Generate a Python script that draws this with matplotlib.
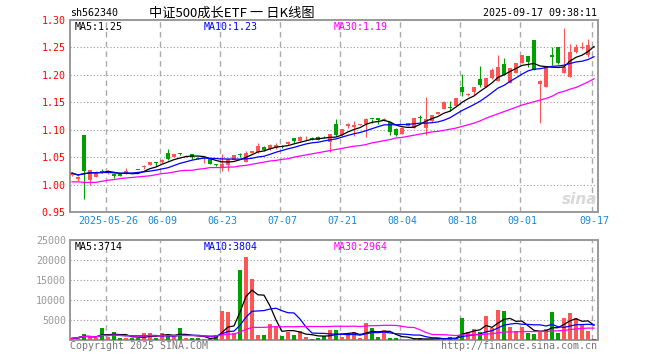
import numpy as np
import pandas as pd
import matplotlib
matplotlib.use('Agg')
import matplotlib.pyplot as plt

plt.rcParams['font.family'] = ['DejaVu Sans Mono']

# trading days shown (Dragon Boat holiday on 06-02 closed)
dates = pd.bdate_range('2025-05-16', '2025-09-17')
dates = dates[dates != pd.Timestamp('2025-06-02')]

opens = [1.017, 1.010, 1.090, 1.008, 1.014, 1.025, 1.021, 1.020, 1.019, 1.022,
         1.021, 1.027, 1.032, 1.036, 1.041, 1.041, 1.058, 1.051, 1.057, 1.051,
         1.056, 1.049, 1.048, 1.047, 1.036, 1.031, 1.036, 1.045, 1.0555, 1.042,
         1.058, 1.059, 1.069, 1.064, 1.066, 1.071, 1.074, 1.084, 1.080, 1.086,
         1.085, 1.087, 1.087, 1.077, 1.111, 1.090, 1.107, 1.105, 1.109, 1.111,
         1.120, 1.121, 1.117, 1.114, 1.102, 1.093, 1.107, 1.104, 1.124, 1.104,
         1.115, 1.129, 1.138, 1.141, 1.144, 1.177, 1.163, 1.169, 1.192, 1.178,
         1.194, 1.189, 1.220, 1.186, 1.204, 1.222, 1.234, 1.263, 1.184, 1.178,
         1.236, 1.250, 1.204, 1.197, 1.242, 1.249, 1.236, 1.262]
highs = [1.023, 1.015, 1.090, 1.027, 1.025, 1.028, 1.026, 1.021, 1.020, 1.031,
         1.022, 1.027, 1.035, 1.041, 1.042, 1.047, 1.064, 1.056, 1.058, 1.053,
         1.056, 1.050, 1.051, 1.047, 1.037, 1.055, 1.047, 1.054, 1.058, 1.062,
         1.062, 1.075, 1.070, 1.074, 1.076, 1.072, 1.079, 1.085, 1.088, 1.088,
         1.086, 1.088, 1.088, 1.093, 1.120, 1.101, 1.112, 1.116, 1.111, 1.122,
         1.120, 1.122, 1.122, 1.114, 1.104, 1.104, 1.112, 1.121, 1.127, 1.159,
         1.127, 1.132, 1.153, 1.152, 1.158, 1.201, 1.167, 1.177, 1.216, 1.195,
         1.212, 1.236, 1.231, 1.212, 1.222, 1.237, 1.235, 1.264, 1.190, 1.216,
         1.250, 1.250, 1.285, 1.256, 1.256, 1.259, 1.265, 1.262]
lows = [1.016, 1.007, 0.974, 0.999, 1.013, 1.021, 1.020, 1.012, 1.015, 1.020,
        1.019, 1.026, 1.028, 1.035, 1.033, 1.040, 1.045, 1.050, 1.053, 1.050,
        1.046, 1.046, 1.039, 1.037, 1.034, 1.024, 1.025, 1.044, 1.050, 1.041,
        1.057, 1.058, 1.062, 1.063, 1.065, 1.067, 1.073, 1.076, 1.079, 1.081,
        1.081, 1.081, 1.085, 1.059, 1.089, 1.089, 1.104, 1.088, 1.108, 1.086,
        1.112, 1.110, 1.116, 1.090, 1.089, 1.092, 1.106, 1.103, 1.112, 1.090,
        1.114, 1.128, 1.137, 1.134, 1.143, 1.161, 1.161, 1.164, 1.178, 1.177,
        1.193, 1.188, 1.199, 1.185, 1.203, 1.221, 1.215, 1.208, 1.112, 1.177,
        1.218, 1.219, 1.203, 1.196, 1.240, 1.247, 1.233, 1.261]
closes = [1.021, 1.014, 1.024, 1.027, 1.022, 1.023, 1.025, 1.015, 1.016, 1.024,
          1.020, 1.026, 1.034, 1.041, 1.039, 1.045, 1.047, 1.055, 1.056, 1.052,
          1.050, 1.047, 1.050, 1.038, 1.035, 1.037, 1.046, 1.054, 1.0545, 1.057,
          1.061, 1.071, 1.063, 1.073, 1.073, 1.068, 1.078, 1.079, 1.087, 1.087,
          1.082, 1.082, 1.086, 1.093, 1.090, 1.101, 1.110, 1.108, 1.110, 1.120,
          1.119, 1.118, 1.119, 1.095, 1.091, 1.104, 1.112, 1.121, 1.121, 1.120,
          1.127, 1.132, 1.151, 1.139, 1.158, 1.169, 1.165, 1.177, 1.181, 1.195,
          1.209, 1.215, 1.200, 1.212, 1.222, 1.237, 1.224, 1.209, 1.189, 1.216,
          1.232, 1.221, 1.215, 1.242, 1.250, 1.251, 1.254, 1.261]
# MA30 (needs history before the window)
ma30_price = [1.005, 1.005, 1.004, 1.004, 1.004, 1.006, 1.008, 1.009, 1.011, 1.012,
              1.013, 1.014, 1.015, 1.016, 1.018, 1.020, 1.021, 1.023, 1.025, 1.026,
              1.026, 1.028, 1.029, 1.031, 1.031, 1.031, 1.032, 1.032, 1.034, 1.035,
              1.037, 1.039, 1.041, 1.043, 1.044, 1.046, 1.047, 1.050, 1.052, 1.054,
              1.056, 1.058, 1.060, 1.062, 1.064, 1.066, 1.068, 1.070, 1.071, 1.073,
              1.076, 1.078, 1.080, 1.082, 1.085, 1.086, 1.088, 1.090, 1.092, 1.094,
              1.096, 1.097, 1.099, 1.101, 1.103, 1.106, 1.109, 1.112, 1.116, 1.121,
              1.125, 1.129, 1.133, 1.137, 1.141, 1.145, 1.148, 1.151, 1.154, 1.157,
              1.161, 1.167, 1.170, 1.174, 1.177, 1.182, 1.187, 1.193]
volumes = [400, 800, 1500, 800, 400, 3100, 800, 2100, 400, 400,
           400, 400, 1700, 1700, 400, 1700, 1250, 800, 2900, 400,
           600, 400, 250, 250, 1250, 7300, 7100, 1700, 17500, 20800,
           15250, 1250, 1250, 4000, 3300, 1000, 2100, 1250, 2250, 750,
           300, 600, 1000, 2600, 2500, 800, 1250, 1900, 400, 4300,
           2900, 750, 2500, 400, 400, 150, 150, 400, 400, 150,
           330, 400, 400, 750, 400, 5400, 2100, 2700, 2100, 5900,
           3000, 7500, 7300, 3300, 2250, 3300, 1700, 1500, 2250, 2820,
           7000, 1800, 5600, 6700, 5500, 3800, 2300, 270]

tick_dates = ['2025-05-26', '2025-06-09', '2025-06-23', '2025-07-07', '2025-07-21',
              '2025-08-04', '2025-08-18', '2025-09-01', '2025-09-17']
tick_labels = ['2025-05-26', '06-09', '06-23', '07-07', '07-21',
               '08-04', '08-18', '09-01', '09-17']

RED = '#ff5555'
GREEN = '#00a000'
W, H = 660, 360


def fx(x):
    return x / W


def fy(y):
    return 1 - y / H


o = np.array(opens)
c = np.array(closes)
x = np.arange(len(dates))
up = c >= o
colors = np.where(up, RED, GREEN)

ma5 = pd.Series(closes).rolling(5, min_periods=1).mean()
ma10 = pd.Series(closes).rolling(10, min_periods=1).mean()
vma5 = pd.Series(volumes).rolling(5, min_periods=1).mean()
vma10 = pd.Series(volumes).rolling(10, min_periods=1).mean()
vma30 = pd.Series(volumes).rolling(30, min_periods=1).mean()

tick_idx = [list(dates).index(pd.Timestamp(d)) for d in tick_dates]

fig = plt.figure(figsize=(6.6, 3.6), dpi=100)
ax = fig.add_axes([fx(70), fy(212), fx(527.5), 192 / H])
axv = fig.add_axes([fx(70), fy(340), fx(527.5), 100 / H])

# price panel
ax.vlines(x, lows, highs, colors=colors, lw=0.8, zorder=2)
body = np.maximum(np.abs(c - o), 0.0016)
ax.bar(x, body, bottom=np.minimum(o, c), width=0.78, color=colors, linewidth=0, zorder=3)
ax.plot(x, ma5, color='black', lw=0.9, zorder=4)
ax.plot(x, ma10, color='#0000ff', lw=0.9, zorder=4)
ax.plot(x, ma30_price, color='#ff00ff', lw=0.9, zorder=4)

ax.set_xlim(-0.33, 87.58)
ax.set_ylim(0.95, 1.30)
ax.set_yticks(np.arange(0.95, 1.301, 0.05))
ax.set_yticklabels([f'{v:.2f}' for v in np.arange(0.95, 1.301, 0.05)], color='#ff0000', fontsize=7.2)
ax.set_xticks(tick_idx)
ax.set_xticklabels(tick_labels, color='#1a88d8', fontsize=7.2)
ax.tick_params(length=0, pad=3)
ax.yaxis.grid(True, linestyle=(0, (1, 2)), color='#999999', lw=0.8)

# volume panel
axv.bar(x, volumes, width=0.78, color=colors, linewidth=0, zorder=3)
axv.plot(x, vma5, color='black', lw=0.9, zorder=4)
axv.plot(x, vma10, color='#0000ff', lw=0.9, zorder=4)
axv.plot(x, vma30, color='#ff00ff', lw=0.9, zorder=4)
axv.set_xlim(-0.33, 87.58)
axv.set_ylim(0, 25000)
axv.set_yticks([5000, 10000, 15000, 20000, 25000])
axv.set_yticklabels(['5000', '10000', '15000', '20000', '25000'], color='#999999', fontsize=7.2)
axv.set_xticks([])
axv.tick_params(length=0, pad=3)
axv.yaxis.grid(True, linestyle=(0, (1, 2)), color='#999999', lw=0.8)

for a in (ax, axv):
    for t in tick_idx:
        a.axvline(t - 0.28, color='#aaaaaa', lw=1.0, linestyle=(0, (4, 3)), zorder=1)
    for s in a.spines.values():
        s.set_color('#999999')
        s.set_linewidth(1.4)
    a.set_axisbelow(True)

# header texts
fig.text(fx(70), fy(13), 'sh562340', ha='left', va='center', fontsize=7.2)
fig.text(fx(232), fy(13), '中证500成长ETF 一 日K线图', ha='center', va='center', fontsize=9.5,
         family=['Noto Sans CJK SC', 'DejaVu Sans'])
fig.text(fx(597), fy(13), '2025-09-17 09:38:11', ha='right', va='center', fontsize=7.2)

fig.text(fx(75), fy(27), f'MA5:{ma5.iloc[-1]:.2f}', ha='left', va='center', fontsize=7.2, color='black')
fig.text(fx(204), fy(27), f'MA10:{ma10.iloc[-1]:.2f}', ha='left', va='center', fontsize=7.2, color='#0000ff')
fig.text(fx(334), fy(27), f'MA30:{ma30_price[-1]:.2f}', ha='left', va='center', fontsize=7.2, color='#ff00ff')

fig.text(fx(75), fy(247), f'MA5:{vma5.iloc[-1]:.0f}', ha='left', va='center', fontsize=7.2, color='black')
fig.text(fx(204), fy(247), f'MA10:{vma10.iloc[-1]:.0f}', ha='left', va='center', fontsize=7.2, color='#0000ff')
fig.text(fx(334), fy(247), f'MA30:{vma30.iloc[-1]:.0f}', ha='left', va='center', fontsize=7.2, color='#ff00ff')

# watermark
fig.text(fx(580), fy(199), 'sina', ha='center', va='center', fontsize=11, style='italic',
         fontweight='bold', color='#d9d9d9', family='DejaVu Sans')

fig.text(fx(70), fy(346), 'Copyright 2025 SINA.COM', ha='left', va='center', fontsize=7.2, color='#777777')
fig.text(fx(597), fy(346), 'http://finance.sina.com.cn', ha='right', va='center', fontsize=7.2, color='#777777')

fig.savefig('out.png', dpi=100, facecolor='white')
